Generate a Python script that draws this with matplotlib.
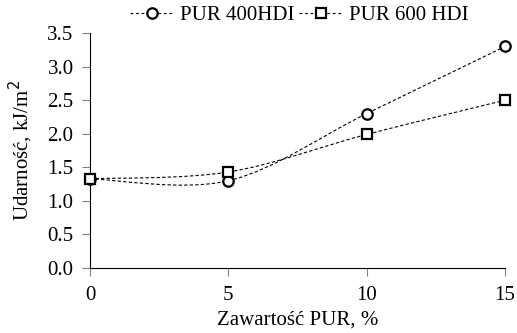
import matplotlib
matplotlib.use("Agg")
import matplotlib.pyplot as plt
import numpy as np
from matplotlib.path import Path
from matplotlib.patches import PathPatch
from matplotlib.lines import Line2D

plt.rcParams['font.family'] = ['Liberation Serif', 'DejaVu Serif']

x = [0, 5, 10, 15]
pur400 = [1.33, 1.30, 2.30, 3.30]
pur600 = [1.33, 1.43, 1.99, 2.50]
labels = ['PUR 400HDI', 'PUR 600 HDI']


def smooth_path(xs, ys):
    # wygładzona linia jak w Excelu (Catmull-Rom -> Bezier)
    p = np.column_stack([xs, ys]).astype(float)
    verts = [p[0]]
    codes = [Path.MOVETO]
    n = len(p)
    for i in range(n - 1):
        p0 = p[i - 1] if i > 0 else p[i]
        p3 = p[i + 2] if i + 2 < n else p[i + 1]
        c1 = p[i] + (p[i + 1] - p0) / 6
        c2 = p[i + 1] - (p3 - p[i]) / 6
        verts += [c1, c2, p[i + 1]]
        codes += [Path.CURVE4] * 3
    return Path(verts, codes)


fig = plt.figure(figsize=(5.17, 3.33), dpi=100)
ax = fig.add_axes([0.174, 0.195, 0.803, 0.706])

dash = (0, (3, 2))
mstyle = dict(ms=7.5, mfc='white', mec='black', mew=1.6)

for ys in (pur400, pur600):
    ax.add_patch(PathPatch(smooth_path(x, ys), fill=False, lw=0.8,
                           ls=dash, ec='black'))

ax.plot(x, pur400, ls='none', marker='o', clip_on=False, zorder=3, **mstyle)
ax.plot(x, pur600, ls='none', marker='s', clip_on=False, zorder=3, **mstyle)

lh = [Line2D([], [], ls=(0, (2.5, 2.5)), lw=0.8, color='black', marker=m, **mstyle)
      for m in ['o', 's']]
ax.legend(lh, labels, loc='center', bbox_to_anchor=(0.505, 1.075), ncol=2,
          frameon=False, fontsize=15, handlelength=2.1, handletextpad=0.3,
          columnspacing=0.2, borderaxespad=0, borderpad=0)

ax.set_xlim(0, 15)
ax.set_ylim(0, 3.5)
ax.set_xticks([0, 5, 10, 15])
ax.set_yticks(np.arange(0, 3.51, 0.5))
ax.set_yticklabels([f'{v:.1f}' for v in np.arange(0, 3.51, 0.5)])
ax.spines['top'].set_visible(False)
ax.spines['right'].set_visible(False)
ax.tick_params(labelsize=15, length=5.8, width=0.8, color='#808080')
ax.tick_params(axis='x', pad=7)
ax.tick_params(axis='y', pad=6)
ax.set_xlabel('Zawartość PUR, %', fontsize=15, labelpad=4)
ax.set_ylabel('Udarność, kJ/m$^2$', fontsize=15, labelpad=9)

fig.savefig('out.png', dpi=100)
